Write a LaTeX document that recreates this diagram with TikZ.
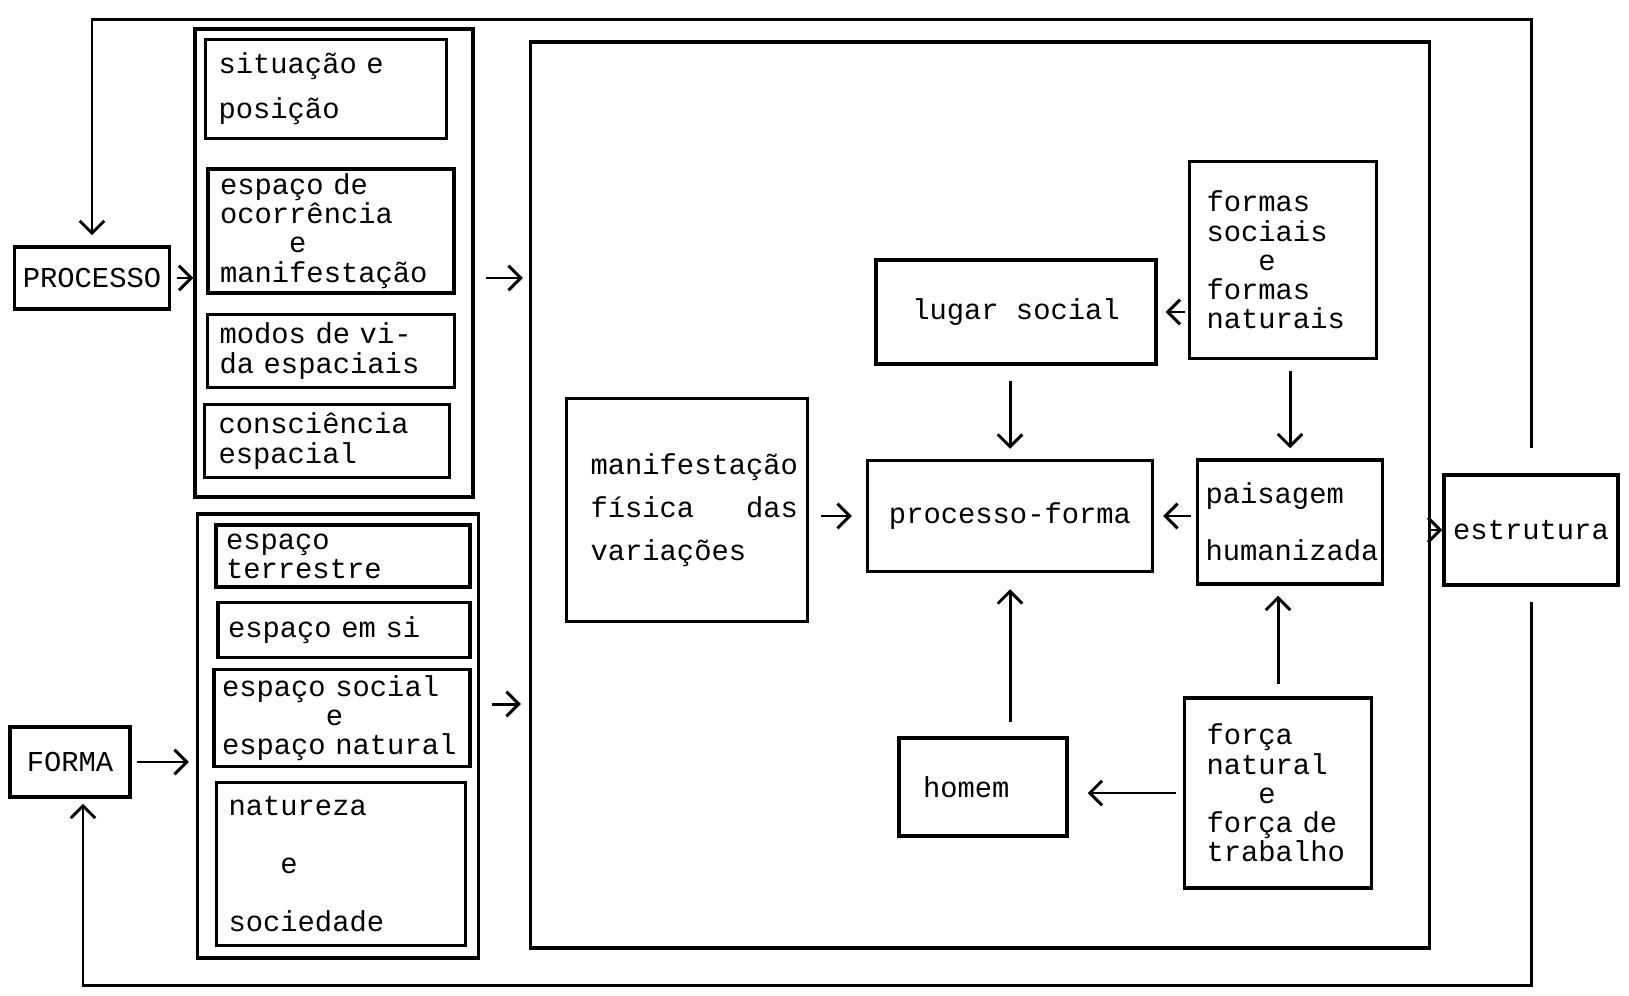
\documentclass[tikz,border=0pt]{standalone}
\usepackage{fontspec}
\setmainfont{Liberation Mono}
\usetikzlibrary{positioning,arrows.meta}
\tikzset{
    auto,
    block/.style = {
        draw,
        shape=rectangle,
        line width=2pt,
        align=left,
        inner ysep=2pt,
        font=\fontsize{16.4}{16.6}\selectfont
    },
    group/.style = {
        draw,
        shape=rectangle,
        line width=2pt
    },
    >={Straight Barb[length=7pt,width=14pt]},
}

\begin{document}
\begin{tikzpicture}[x=0.02cm, y=-0.02cm, line width=1.7pt]
        \useasboundingbox (0,0) rectangle (1629,996);
        \coordinate (topo) at (0,20);
        \coordinate (base) at (0,985);

        \node[block, minimum width=3.1cm, minimum height=1.24cm] (processo) at (92,278) {PROCESSO};
        \node[block, minimum width=2.4cm, minimum height=1.4cm] (forma) at (70,762) {FORMA};

        \node[group, minimum width=5.56cm, minimum height=9.36cm] (grupoproc) at (334,263) {};
        \node[block, text width=4.30cm, inner xsep=0.26cm, minimum height=1.98cm] (situacao) at (326,89) {situação e\\[9pt]posição};
        \node[block, text width=4.44cm, inner xsep=0.24cm, minimum height=2.48cm] (ocorrencia) at (331,231) {espaço de\\ocorrência\\\hphantom{xxxx}e\\manifestação};
        \node[block, text width=4.46cm, inner xsep=0.24cm, minimum height=1.46cm] (modos) at (331,351) {modos de vi-\\da espaciais};
        \node[block, text width=4.34cm, inner xsep=0.28cm, minimum height=1.46cm] (consciencia) at (327,441) {consciência\\espacial};

        \node[group, minimum width=5.62cm, minimum height=8.88cm] (grupoforma) at (338,736) {};
        \node[block, text width=4.68cm, inner xsep=0.2cm, minimum height=1.24cm] (terrestre) at (343,556) {espaço\\terrestre};
        \node[block, text width=4.64cm, inner xsep=0.2cm, minimum height=1.1cm] (emsi) at (344,630) {espaço~em~si};
        \node[block, text width=4.8cm, inner xsep=0.16cm, minimum height=1.94cm] (social) at (342,718) {espaço~social\\\hphantom{xxxxxx}e\\espaço~natural};
        \node[block, text width=4.5cm, inner xsep=0.24cm, minimum height=3.26cm] (natureza) at (341,864) {natureza\\[16.5pt]\hphantom{xxx}e\\[16.5pt]sociedade};

        \node[group, minimum width=17.98cm, minimum height=18.12cm] (bigbox) at (980,495) {};
        \node[block, text width=3.86cm, inner xsep=0.48cm, minimum height=4.46cm] (manif) at (687,510) {manifestação\\[8pt]física\hphantom{xxx}das\\[8pt]variações};
        \node[block, minimum width=5.7cm, minimum height=2.22cm] (procforma) at (1010,516) {processo-forma};
        \node[block, minimum width=5.6cm, minimum height=2.08cm] (lugar) at (1016,312) {lugar~social};
        \node[block, text width=3.06cm, inner xsep=0.34cm, minimum height=3.94cm] (formas) at (1283,260) {formas\\sociais\\\hphantom{xxx}e\\formas\\naturais};
        \node[block, text width=3.38cm, inner xsep=0.16cm, minimum height=2.48cm] (paisagem) at (1290,522) {paisagem\\[16pt]humanizada};
        \node[block, text width=2.4cm, inner xsep=0.48cm, minimum height=1.96cm] (homem) at (983,787) {homem};
        \node[block, text width=2.86cm, inner xsep=0.44cm, minimum height=3.8cm] (forca) at (1278,793) {força\\natural\\\hphantom{xxx}e\\força~de\\trabalho};

        \node[block, minimum width=3.48cm, minimum height=2.2cm] (estrutura) at (1531,530) {estrutura};

        \coordinate (saidaforma) at ([yshift=0.64cm]grupoforma.east);
        \coordinate (entradaforma) at ([xshift=0.26cm]forma.south);

        \path[draw, ->, shorten <=3pt] (processo.east) -- (processo.east -| grupoproc.west);
        \path[draw, ->, shorten <=0.1cm, shorten >=0.14cm] (forma.east) -- (forma.east -| grupoforma.west);
        \path[draw, ->, shorten <=0.22cm, shorten >=0.12cm] (grupoproc.east |- processo) -- (bigbox.west |- processo);
        \path[draw, ->, shorten <=0.24cm, shorten >=0.16cm] (saidaforma) -- (saidaforma -| bigbox.west);

        \path[draw, ->, shorten <=0.24cm, shorten >=0.28cm] (manif.east |- procforma) -- (procforma.west);
        \path[draw, ->, shorten <=0.3cm, shorten >=0.2cm] (lugar.south -| procforma.north) -- (procforma.north);
        \path[draw, ->, shorten <=0.06cm, shorten >=0.16cm] (formas.west |- lugar) -- (lugar.east);
        \path[draw, ->, shorten <=0.22cm, shorten >=0.2cm] (formas.south -| paisagem.north) -- (paisagem.north);
        \path[draw, ->, shorten <=0.1cm, shorten >=0.18cm] (paisagem.west |- procforma) -- (procforma.east);
        \path[draw, ->, shorten <=0.28cm, shorten >=0.32cm] (homem.north -| procforma.south) -- (procforma.south);
        \path[draw, ->, shorten <=0.14cm, shorten >=0.38cm] (forca.west) -- (forca.west -| homem.east);
        \path[draw, ->, shorten <=0.24cm, shorten >=0.2cm] (forca.north) -- (paisagem.south -| forca.north);
        \path[draw, ->] (bigbox.east |- estrutura) -- (estrutura.west);

        \path[draw, ->, shorten <=0.5cm, shorten >=0.2cm] (estrutura.north) -- (estrutura.north |- topo) -| (processo.north);
        \path[draw, ->, shorten <=0.3cm, shorten >=0.1cm] (estrutura.south) -- (estrutura.south |- base) -| (entradaforma);
\end{tikzpicture}
\end{document}
